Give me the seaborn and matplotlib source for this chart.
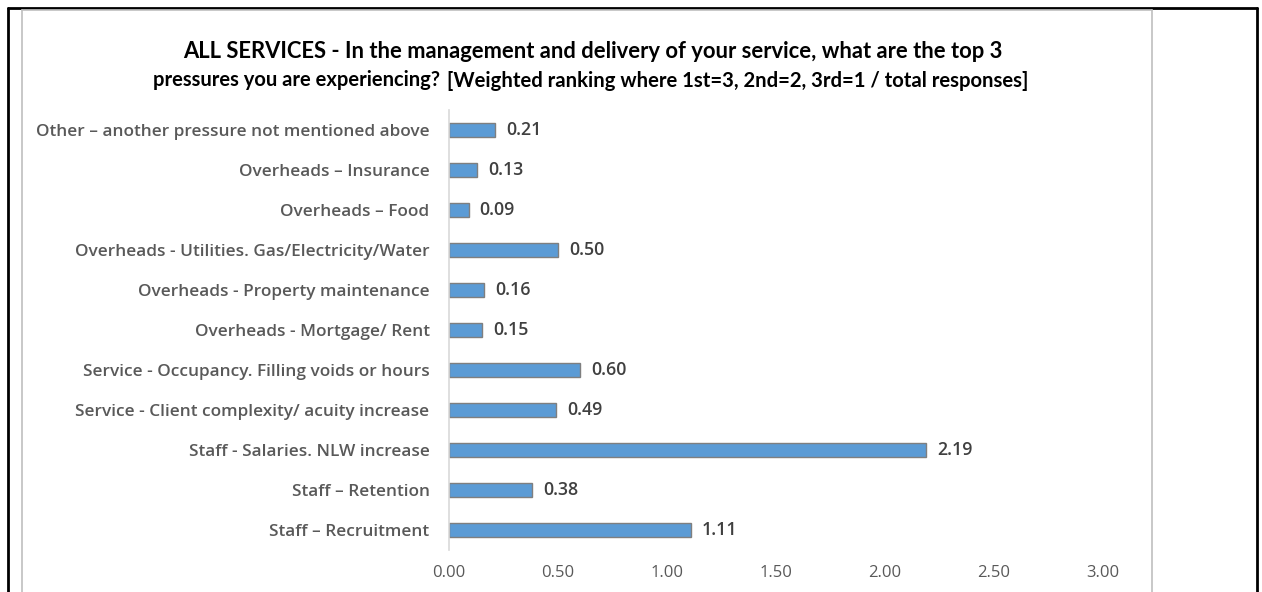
import matplotlib
matplotlib.use("Agg")
import matplotlib.pyplot as plt
import seaborn as sns
import pandas as pd
from matplotlib.lines import Line2D

# Data (top to bottom).
categories = [
    "Other \u2013 another pressure not mentioned above",
    "Overheads \u2013 Insurance",
    "Overheads \u2013 Food",
    "Overheads - Utilities. Gas/Electricity/Water",
    "Overheads - Property maintenance",
    "Overheads - Mortgage/ Rent",
    "Service - Occupancy. Filling voids or hours",
    "Service - Client complexity/ acuity increase",
    "Staff - Salaries. NLW increase",
    "Staff \u2013 Retention",
    "Staff \u2013 Recruitment",
]
scores = [0.21, 0.13, 0.09, 0.50, 0.16, 0.15, 0.60, 0.49, 2.19, 0.38, 1.11]
x_ticks = [0.0, 0.5, 1.0, 1.5, 2.0, 2.5, 3.0]

title_line1 = "ALL SERVICES - In the management and delivery of your service, what are the top 3"
title_line2a = "pressures you are experiencing?"
title_line2b = "[Weighted ranking where 1st=3, 2nd=2, 3rd=1 / total responses]"

df = pd.DataFrame({"category": categories, "score": scores})

sns.set_style("white")
plt.rcParams["font.family"] = ["Open Sans", "DejaVu Sans"]

fig = plt.figure(figsize=(12.62, 5.92), dpi=100)
ax = fig.add_axes([449 / 1262, 1 - 550 / 592, (1103 - 449) / 1262, 440 / 592])

sns.barplot(data=df, x="score", y="category", order=categories, orient="h",
            color="#5B9BD5", width=0.36, edgecolor="#7F7F7F", linewidth=1.0,
            saturation=1, ax=ax)

# Value labels at the end of each bar.
ax.bar_label(ax.containers[0], fmt="%.2f", padding=8, fontsize=12.8,
             fontweight="semibold", color="#404040")

ax.set_xlim(0, 3)
ax.set_xticks(x_ticks)
ax.set_xticklabels([f"{t:.2f}" for t in x_ticks], fontsize=12, color="#595959")
ax.tick_params(axis="x", length=0, pad=11)
ax.tick_params(axis="y", length=0, pad=14)
for lbl in ax.get_yticklabels():
    lbl.set_fontsize(12.4)
    lbl.set_fontweight("semibold")
    lbl.set_color("#595959")
ax.set_xlabel("")
ax.set_ylabel("")
for side in ["top", "right", "bottom"]:
    ax.spines[side].set_visible(False)
ax.spines["left"].set_color("#D9D9D9")
ax.spines["left"].set_linewidth(1.2)

# Title (two lines, second line ends with the bracketed note).
title_font = ["Lato", "DejaVu Sans"]
fig.text(593 / 1262, 1 - 52 / 592, title_line1, ha="center", va="center",
         fontsize=15.8, fontweight="bold", color="#000000", family=title_font)
fig.text(440 / 1262, 1 - 80 / 592, title_line2a, ha="right", va="center",
         fontsize=14.5, fontweight="bold", color="#000000", family=title_font)
fig.text(447 / 1262, 1 - 81 / 592, title_line2b, ha="left", va="center",
         fontsize=14.6, fontweight="bold", color="#000000", family=title_font)

# Outer frames as in the source screenshot.
def fig_line(x0, y0, x1, y1, color, lw):
    fig.add_artist(Line2D([x0 / 1262, x1 / 1262], [1 - y0 / 592, 1 - y1 / 592],
                          color=color, linewidth=lw, transform=fig.transFigure))

fig_line(8, 8, 1257, 8, "black", 2.0)
fig_line(8, 8, 8, 592, "black", 2.0)
fig_line(1257, 8, 1257, 592, "black", 2.0)
fig_line(22, 10, 1152, 10, "#BFBFBF", 1.2)
fig_line(22, 10, 22, 592, "#BFBFBF", 1.2)
fig_line(1152, 10, 1152, 592, "#BFBFBF", 1.2)

fig.savefig("out.png", dpi=100, facecolor="white")
